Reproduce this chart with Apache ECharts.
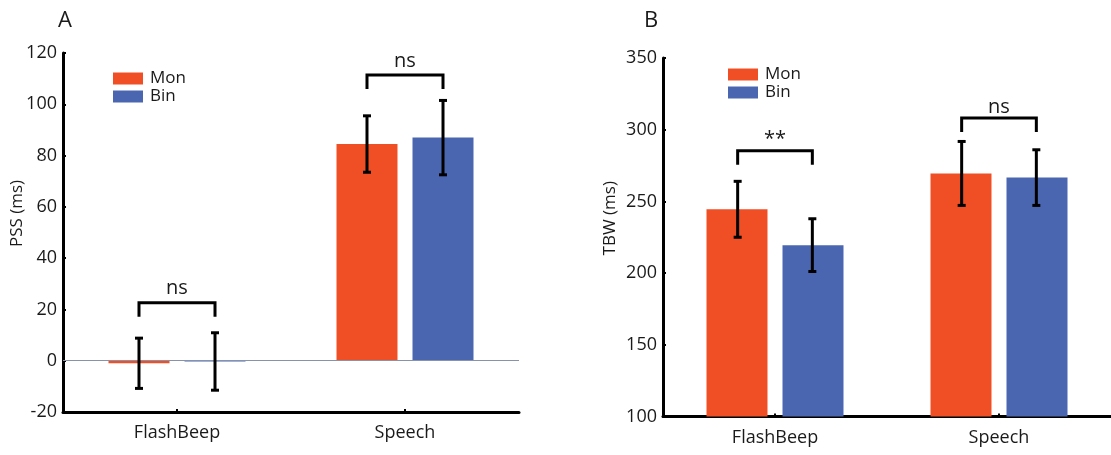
<!DOCTYPE html>
<html>
<head>
<meta charset="utf-8">
<script src="https://cdn.jsdelivr.net/npm/echarts@6/dist/echarts.min.js"></script>
<style>
  html, body { margin: 0; padding: 0; background: #fff; }
  #chart { width: 1111px; height: 455px; }
</style>
</head>
<body>
<div id="chart"></div>
<script>
// Conditions on the x axis of both panels
const categories = ['FlashBeep', 'Speech'];

// Panel A: point of subjective simultaneity (ms), mean and error
const pssMon = [-1.0, 84.5];
const pssMonErr = [9.8, 11.0];
const pssBin = [-0.3, 87.0];
const pssBinErr = [11.2, 14.5];

// Panel B: temporal binding window (ms), mean and error
const tbwMon = [244.5, 269.5];
const tbwMonErr = [19.5, 22.3];
const tbwBin = [219.5, 266.6];
const tbwBinErr = [18.4, 19.4];

// Significance brackets: level (axis units) and label per condition
const bracketA = [22.6, 111.4];
const bracketALabels = ['ns', 'ns'];
const bracketB = [285.3, 308.1];
const bracketBLabels = ['**', 'ns'];

// Axis ranges
const yA = { min: -20, max: 120, interval: 20 };
const yB = { min: 100, max: 350, interval: 50 };

const MON = '#F04E24';
const BIN = '#4A66B0';
const FONT = 'Open Sans';
const INK = '#1a1a1a';

const chart = echarts.init(document.getElementById('chart'), null, { renderer: 'canvas' });

// error bar with caps, shifted to the matching bar inside the category band
function errorBarSeries(name, xi, yi, means, errs, side) {
  return {
    type: 'custom',
    name: name + ' error',
    xAxisIndex: xi, yAxisIndex: yi,
    silent: true, z: 5,
    data: means.map((m, i) => [i, m, errs[i]]),
    renderItem(params, api) {
      const i = api.value(0), m = api.value(1), e = api.value(2);
      const dx = side * api.size([1, 0])[0] * 0.1667;
      const top = api.coord([i, m + e]);
      const bot = api.coord([i, m - e]);
      const x = top[0] + dx;
      const cap = 4;
      const st = { stroke: '#000', lineWidth: 3 };
      return {
        type: 'group',
        children: [
          { type: 'line', shape: { x1: x, y1: top[1], x2: x, y2: bot[1] }, style: st },
          { type: 'line', shape: { x1: x - cap, y1: top[1], x2: x + cap, y2: top[1] }, style: st },
          { type: 'line', shape: { x1: x - cap, y1: bot[1], x2: x + cap, y2: bot[1] }, style: st }
        ]
      };
    }
  };
}

// bracket joining the two bars of a category, with its label above
function bracketSeries(xi, yi, levels, labels, textGap) {
  return {
    type: 'custom',
    xAxisIndex: xi, yAxisIndex: yi,
    silent: true, z: 6,
    data: levels.map((v, i) => [i, v]),
    renderItem(params, api) {
      const p = api.coord([api.value(0), api.value(1)]);
      const dx = api.size([1, 0])[0] * 0.1667;
      const leg = 14;
      const x1 = p[0] - dx, x2 = p[0] + dx, y = p[1];
      return {
        type: 'group',
        children: [
          {
            type: 'polyline',
            shape: { points: [[x1, y + leg], [x1, y], [x2, y], [x2, y + leg]] },
            style: { stroke: '#000', lineWidth: 3, fill: null }
          },
          {
            type: 'text',
            style: {
              x: p[0], y: y - textGap,
              text: labels[params.dataIndex],
              fill: INK, font: '20px "' + FONT + '"',
              align: 'center', verticalAlign: 'bottom'
            }
          }
        ]
      };
    }
  };
}

const axisLine = { show: true, onZero: false, lineStyle: { color: '#000', width: 3 } };
const axisTick = { show: true, inside: true, length: 3, lineStyle: { color: '#000', width: 2 } };

function xAxis(gi) {
  return {
    type: 'category', gridIndex: gi, data: categories,
    axisLine: axisLine,
    axisTick: Object.assign({ alignWithLabel: true }, axisTick),
    axisLabel: { color: INK, fontFamily: FONT, fontSize: 18, margin: 12 },
    splitLine: { show: false }
  };
}

function yAxis(gi, range, name, gap) {
  return {
    type: 'value', gridIndex: gi,
    min: range.min, max: range.max, interval: range.interval,
    name: name, nameLocation: 'middle', nameGap: gap, nameRotate: 90,
    nameMoveOverlap: false,
    nameTextStyle: { color: INK, fontFamily: FONT, fontSize: 17, padding: [0, 0, 0, 38] },
    axisLine: { show: true, lineStyle: { color: '#000', width: 3 } },
    axisTick: axisTick,
    axisLabel: { color: INK, fontFamily: FONT, fontSize: 18, margin: 6 },
    splitLine: { show: false }
  };
}

function barSeries(name, color, xi, yi, values, extra) {
  return Object.assign({
    type: 'bar', name: name,
    xAxisIndex: xi, yAxisIndex: yi,
    data: values, barWidth: 61, barGap: '24.6%',
    itemStyle: { color: color },
    silent: true
  }, extra || {});
}

function legend(left, top) {
  return {
    orient: 'vertical', left: left, top: top,
    data: ['Mon', 'Bin'], icon: 'rect',
    itemWidth: 30, itemHeight: 12, itemGap: 1,
    textStyle: { color: INK, fontFamily: FONT, fontSize: 17, lineHeight: 16, padding: [0, 0, 0, 2] },
    selectedMode: false
  };
}

chart.setOption({
  animation: false,
  title: [
    { text: 'A', left: 53, top: 5, textStyle: { fontFamily: FONT, fontSize: 22, fontWeight: 'normal', color: INK } },
    { text: 'B', left: 639, top: 5, textStyle: { fontFamily: FONT, fontSize: 22, fontWeight: 'normal', color: INK } }
  ],
  legend: [legend(108, 65), legend(723, 61)],
  grid: [
    { left: 63, top: 53, width: 456, height: 359 },
    { left: 663, top: 58, width: 454, height: 358.5 }
  ],
  xAxis: [xAxis(0), xAxis(1)],
  yAxis: [yAxis(0, yA, 'PSS (ms)', 37), yAxis(1, yB, 'TBW (ms)', 44)],
  series: [
    barSeries('Mon', MON, 0, 0, pssMon),
    barSeries('Bin', BIN, 0, 0, pssBin, {
      markLine: {
        silent: true, symbol: 'none', label: { show: false },
        lineStyle: { color: '#8792ab', width: 1, type: 'solid' },
        data: [{ yAxis: 0 }]
      }
    }),
    barSeries('Mon', MON, 1, 1, tbwMon),
    barSeries('Bin', BIN, 1, 1, tbwBin),
    errorBarSeries('Mon', 0, 0, pssMon, pssMonErr, -1),
    errorBarSeries('Bin', 0, 0, pssBin, pssBinErr, 1),
    errorBarSeries('Mon', 1, 1, tbwMon, tbwMonErr, -1),
    errorBarSeries('Bin', 1, 1, tbwBin, tbwBinErr, 1),
    bracketSeries(0, 0, bracketA, bracketALabels, 4),
    bracketSeries(1, 1, bracketB, bracketBLabels, 1)
  ]
});
</script>
</body>
</html>
